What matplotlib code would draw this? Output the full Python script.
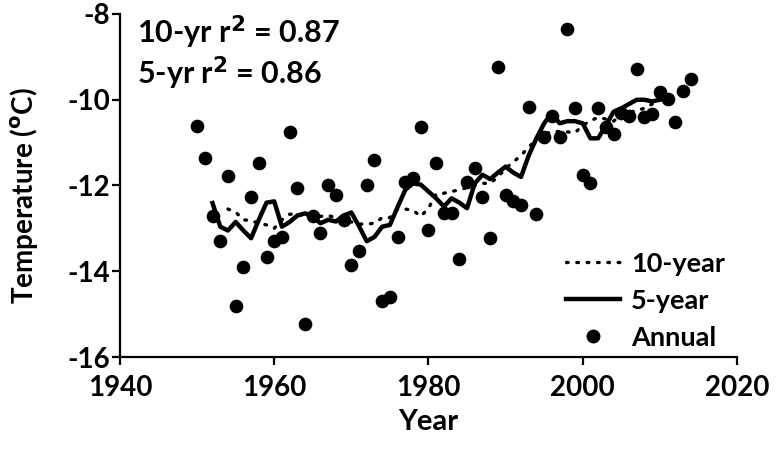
import matplotlib
matplotlib.use("Agg")
import matplotlib.pyplot as plt
from matplotlib.lines import Line2D

plt.rcParams['font.family'] = ['Lato', 'DejaVu Sans']
plt.rcParams['axes.unicode_minus'] = False

# annual values
years = list(range(1950, 2015))
annual = [-10.61, -11.37, -12.72, -13.29, -11.78, -14.81, -13.89, -12.26, -11.48, -13.66,
          -13.29, -13.19, -10.76, -12.07, -15.23, -12.72, -13.11, -11.98, -12.22, -12.80,
          -13.85, -13.52, -11.99, -11.41, -14.69, -14.61, -13.19, -11.91, -11.83, -10.64,
          -13.03, -11.48, -12.65, -12.65, -13.72, -11.91, -11.60, -12.26, -13.23, -9.24,
          -12.22, -12.37, -12.45, -10.18, -12.67, -10.86, -10.39, -10.86, -8.36, -10.20,
          -11.75, -11.95, -10.20, -10.63, -10.80, -10.32, -10.39, -9.28, -10.41, -10.33,
          -9.81, -9.98, -10.52, -9.79, -9.52]

years5 = list(range(1952, 2012))
five = [-12.41, -12.96, -13.05, -12.85, -13.05, -13.23, -12.80, -12.40, -12.37, -12.96,
        -12.85, -12.70, -12.65, -12.72, -12.88, -12.80, -12.84, -12.70, -12.63, -12.95,
        -13.30, -13.20, -12.96, -12.92, -12.50, -12.10, -11.95, -11.98, -12.14, -12.30,
        -12.49, -12.30, -12.40, -12.53, -11.95, -11.75, -11.85, -11.70, -11.56, -11.70,
        -11.80, -11.30, -10.90, -10.55, -10.31, -10.55, -10.50, -10.50, -10.55, -10.90,
        -10.90, -10.60, -10.28, -10.20, -10.10, -10.00, -10.00, -10.04, -10.00, -9.97]

years10 = list(range(1954, 2011))
ten = [-12.55, -12.62, -12.80, -12.82, -12.88, -12.92, -13.00, -12.80, -12.67, -12.67,
       -12.70, -12.75, -12.72, -12.70, -12.75, -12.80, -12.85, -12.90, -12.90, -12.88,
       -12.75, -12.75, -12.55, -12.55, -12.58, -12.72, -12.53, -12.20, -12.18, -12.14,
       -12.10, -12.05, -12.00, -11.95, -11.95, -11.80, -11.60, -11.45, -11.30, -11.10,
       -10.94, -10.80, -10.75, -10.74, -10.75, -10.77, -10.60, -10.49, -10.41, -10.45,
       -10.50, -10.35, -10.30, -10.25, -10.20, -10.10, -10.00]

xticks = [1940, 1960, 1980, 2000, 2020]
yticks = [-16, -14, -12, -10, -8]

fig = plt.figure(figsize=(7.76, 4.57), dpi=100)
ax = fig.add_axes([0.1546, 0.2188, 0.7951, 0.7506])

dots = (0, (0.5, 2.6))
ax.plot(years10, ten, color='black', lw=2.4, linestyle=dots, dash_capstyle='round')
ax.plot(years5, five, color='black', lw=3.2)
ax.scatter(years, annual, s=78, color='black', zorder=3)

ax.set_xlim(1940, 2020)
ax.set_ylim(-16, -8)
ax.set_xticks(xticks)
ax.set_yticks(yticks)
for s in ['top', 'right']:
    ax.spines[s].set_visible(False)
for s in ['left', 'bottom']:
    ax.spines[s].set_linewidth(1.6)
ax.tick_params(direction='out', length=6, width=1.6, labelsize=20)
ax.tick_params(axis='y', pad=1)
ax.tick_params(axis='x', pad=7)
for lab in ax.get_xticklabels() + ax.get_yticklabels():
    lab.set_fontweight('bold')

ax.set_xlabel('Year', fontsize=21, fontweight='bold', labelpad=6)
ax.set_ylabel('Temperature ($^{\\mathbf{o}}$C)', fontsize=20, fontweight='bold', labelpad=10)
ax.yaxis.set_label_coords(-0.13, 0.47)

ax.text(0.027, 1.0, '10-yr r$^{\\mathbf{2}}$ = 0.87', transform=ax.transAxes,
        fontsize=22, fontweight='bold', va='top', ha='left')
ax.text(0.027, 0.882, '5-yr r$^{\\mathbf{2}}$ = 0.86', transform=ax.transAxes,
        fontsize=22, fontweight='bold', va='top', ha='left')

handles = [Line2D([], [], color='black', lw=2.4, linestyle=dots, dash_capstyle='round'),
           Line2D([], [], color='black', lw=3.2),
           Line2D([], [], color='black', lw=0, marker='o', markersize=9)]
ax.legend(handles, ['10-year', '5-year', 'Annual'], loc='lower right', frameon=False,
          handlelength=2.0, handletextpad=0.4, labelspacing=0.48,
          bbox_to_anchor=(1.02, -0.05), prop={'weight': 'bold', 'size': 19.5})

fig.savefig('out.png', dpi=100)
